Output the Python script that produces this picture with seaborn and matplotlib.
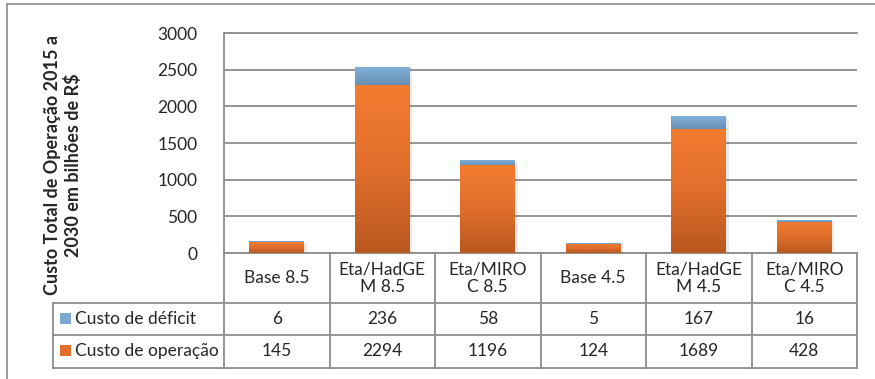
import numpy as np
import matplotlib
matplotlib.use("Agg")
import matplotlib.pyplot as plt
from matplotlib.colors import LinearSegmentedColormap
from matplotlib.patches import Rectangle
from matplotlib.transforms import blended_transform_factory
import seaborn as sns
import pandas as pd

# ---------------- data ----------------
categories = ["Base 8.5", "Eta/HadGEM 8.5", "Eta/MIROC 8.5",
              "Base 4.5", "Eta/HadGEM 4.5", "Eta/MIROC 4.5"]
cat_labels = ["Base 8.5", "Eta/HadGE\nM 8.5", "Eta/MIRO\nC 8.5",
              "Base 4.5", "Eta/HadGE\nM 4.5", "Eta/MIRO\nC 4.5"]
deficit = [6, 236, 58, 5, 167, 16]
operacao = [145, 2294, 1196, 124, 1689, 428]
series_names = ["Custo de déficit", "Custo de operação"]
yticks = [0, 500, 1000, 1500, 2000, 2500, 3000]
ylabel = "Custo Total de Operação 2015 a\n2030 em bilhões de R\\$"

# ---------------- style ----------------
sns.set_style("white")
plt.rcParams['font.family'] = ['Lato', 'DejaVu Sans']
GRID = "#8C8C8C"
FS = 12.5

orange_cmap = LinearSegmentedColormap.from_list("o", ["#B9581F", "#E06E2C", "#F37C30"])
blue_cmap = LinearSegmentedColormap.from_list("b", ["#6A8DB2", "#80B2DA"])

W, H = 875, 379
fig = plt.figure(figsize=(W / 100, H / 100), dpi=100)

L, R, T, B = 224, 857, 33, 253
ax = fig.add_axes([L / W, 1 - B / H, (R - L) / W, (B - T) / H])

df = pd.DataFrame({"cat": categories, "op": operacao, "def": deficit})
sns.barplot(data=df, x="cat", y="op", color="#E06E2C", saturation=1,
            width=0.52, errorbar=None, ax=ax, zorder=3)
sns.barplot(data=df, x="cat", y="def", bottom=np.array(operacao), color="#78A6CF",
            saturation=1, width=0.52, errorbar=None, ax=ax, zorder=3)

ax.set_xlim(-0.5, len(categories) - 0.5)
ax.set_ylim(0, 3000)

# gradient fills on bars
grad = np.linspace(0, 1, 256).reshape(-1, 1)
n = len(categories)
for i, p in enumerate(ax.patches):
    cmap = orange_cmap if i < n else blue_cmap
    x, y, w, h = p.get_x(), p.get_y(), p.get_width(), p.get_height()
    # soft shadow
    ax.add_patch(Rectangle((x + 0.015, y - 10), w + 0.01, h, color="#000000",
                           alpha=0.08, lw=0, zorder=2, clip_on=False))
    ax.imshow(grad, extent=[x, x + w, y, y + h], origin="lower", cmap=cmap,
              aspect="auto", zorder=4, interpolation="bilinear")
    p.set_visible(False)
ax.set_xlim(-0.5, len(categories) - 0.5)
ax.set_ylim(0, 3000)

ax.set_yticks(yticks)
ax.set_yticklabels([str(v) for v in yticks])
ax.yaxis.grid(True, color=GRID, linewidth=1.3)
ax.set_axisbelow(True)
ax.set_xticks([])
ax.set_xlabel("")
ax.set_ylabel("")
ax.tick_params(axis="y", length=0, pad=19, labelsize=FS)
for s in ["top", "bottom", "left"]:
    ax.spines[s].set_visible(True)
    ax.spines[s].set_color(GRID)
    ax.spines[s].set_linewidth(1.3)
ax.spines["right"].set_visible(False)
ax.set_facecolor("white")

# ---------------- overlay for table / frame ----------------
oax = fig.add_axes([0, 0, 1, 1], zorder=-1)
oax.set_xlim(0, W)
oax.set_ylim(H, 0)
oax.axis("off")
btr = blended_transform_factory(ax.transData, oax.transData)

# outer frame
oax.plot([7, W], [4, 4], color="#8A8A8A", lw=1.2)
oax.plot([7, 7], [4, H], color="#8A8A8A", lw=1.2)

TL, TB = 53, 368
rows_y = [303, 335, 368]
for yy in rows_y:
    oax.plot([TL, R], [yy, yy], color=GRID, lw=1.3, solid_capstyle="projecting")
oax.plot([TL, TL], [303, TB], color=GRID, lw=1.3)
for i in range(n + 1):
    oax.plot([i - 0.5, i - 0.5], [B, TB], color=GRID, lw=1.3, transform=btr,
             clip_on=False)

for i, lab in enumerate(cat_labels):
    oax.text(i, 278, lab, transform=btr, ha="center", va="center", fontsize=FS,
             linespacing=1.1, multialignment="center")
for i in range(n):
    oax.text(i, 319, str(deficit[i]), transform=btr, ha="center", va="center", fontsize=FS)
    oax.text(i, 351, str(operacao[i]), transform=btr, ha="center", va="center", fontsize=FS)

# row headers with legend keys
key_cols = ["#7AA8D0", "#E46F2A"]
for j, (name, yy) in enumerate(zip(series_names, [319, 351])):
    oax.add_patch(Rectangle((60, yy - 6), 11, 11, color=key_cols[j], lw=0))
    oax.text(75, yy, name, ha="left", va="center", fontsize=FS)

fig.text(63 / W, 1 - 165 / H, ylabel, rotation=90, ha="center", va="center",
         fontsize=13, fontweight="bold", multialignment="center", linespacing=1.15)

fig.savefig("out.png", dpi=100)
